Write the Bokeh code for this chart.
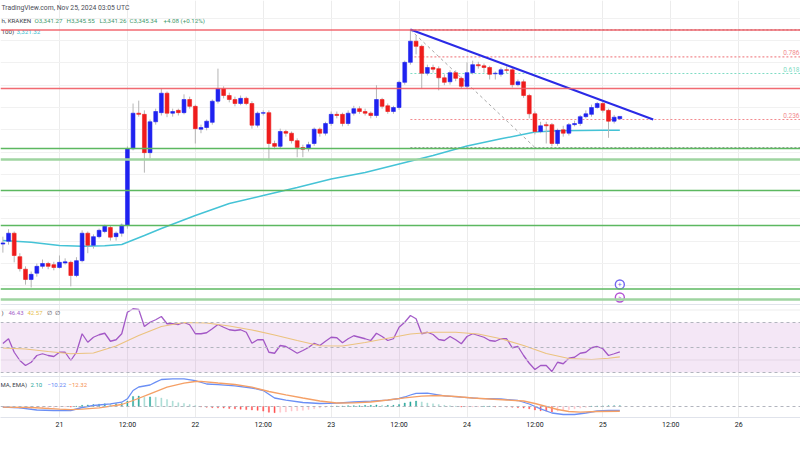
from bokeh.plotting import figure
from bokeh.models import Range1d, FixedTicker, Span, BoxAnnotation
from bokeh.core.properties import value
from bokeh.embed import file_html
from bokeh.resources import INLINE

# ---------------- data (hours since Nov 21 00:00 UTC, hourly candles) ----------------
hours = list(range(-10, 100))
opens = [3122, 3127, 3141, 3100, 3078, 3060, 3071, 3083, 3088, 3086,
         3081, 3089, 3090, 3067, 3093, 3141, 3120, 3135, 3144, 3151,
         3135, 3141, 3155, 3289, 3351, 3349, 3282, 3336, 3352, 3386,
         3351, 3356, 3352, 3375, 3363, 3323, 3326, 3335, 3372, 3394,
         3382, 3375, 3368, 3377, 3368, 3330, 3351, 3352, 3298, 3293,
         3319, 3316, 3303, 3291, 3289, 3298, 3323, 3316, 3333, 3349,
         3349, 3333, 3351, 3359, 3354, 3351, 3347, 3375, 3364, 3354,
         3361, 3405, 3440, 3477, 3468, 3421, 3431, 3429, 3413, 3406,
         3422, 3412, 3398, 3422, 3436, 3434, 3431, 3420, 3419, 3427,
         3427, 3401, 3406, 3382, 3350, 3319, 3331, 3331, 3298, 3322,
         3316, 3331, 3333, 3345, 3349, 3361, 3368, 3356, 3337, 3341.27]
closes = [3124, 3141, 3102, 3079, 3060, 3069, 3083, 3088, 3083, 3081,
          3090, 3091, 3067, 3093, 3141, 3120, 3135, 3146, 3153, 3134,
          3141, 3155, 3289, 3351, 3349, 3282, 3336, 3354, 3386, 3351,
          3354, 3352, 3375, 3363, 3324, 3326, 3337, 3372, 3394, 3382,
          3375, 3368, 3377, 3368, 3330, 3351, 3352, 3298, 3293, 3319,
          3316, 3303, 3291, 3288, 3296, 3323, 3316, 3333, 3349, 3347,
          3333, 3351, 3359, 3354, 3351, 3347, 3375, 3363, 3354, 3361,
          3405, 3440, 3477, 3468, 3421, 3431, 3428, 3413, 3405, 3422,
          3412, 3398, 3422, 3436, 3434, 3431, 3419, 3421, 3427, 3426,
          3401, 3406, 3382, 3350, 3319, 3329, 3329, 3298, 3321, 3316,
          3331, 3333, 3345, 3350, 3361, 3368, 3356, 3337, 3344, 3345.34]
highs = [3135, 3148, 3144, 3106, 3083, 3074, 3088, 3095, 3091, 3091,
         3102, 3097, 3093, 3099, 3146, 3144, 3139, 3149, 3156, 3155,
         3144, 3158, 3293, 3368, 3373, 3356, 3340, 3359, 3394, 3389,
         3359, 3359, 3384, 3380, 3366, 3331, 3340, 3375, 3429, 3398,
         3387, 3380, 3382, 3380, 3372, 3354, 3356, 3356, 3303, 3324,
         3322, 3319, 3307, 3296, 3301, 3326, 3326, 3336, 3354, 3354,
         3352, 3356, 3364, 3363, 3359, 3354, 3400, 3378, 3368, 3364,
         3408, 3443, 3497.5, 3487, 3471, 3436, 3436, 3433, 3419, 3426,
         3426, 3415, 3440, 3443, 3441, 3438, 3434, 3424, 3431, 3433,
         3431, 3410, 3410, 3385, 3354, 3336, 3336, 3334, 3324, 3329,
         3334, 3338, 3348, 3356, 3366, 3371, 3371, 3359, 3348, 3345.55]
lows = [3107, 3121, 3090, 3074, 3051, 3046, 3065, 3079, 3078, 3076,
        3079, 3086, 3048, 3064, 3090, 3106, 3114, 3132, 3141, 3128,
        3128, 3135, 3149, 3286, 3345, 3247, 3272, 3331, 3347, 3344,
        3345, 3347, 3349, 3359, 3298, 3316, 3321, 3331, 3368, 3377,
        3370, 3363, 3365, 3365, 3324, 3326, 3347, 3268, 3288, 3289,
        3310, 3298, 3274, 3274, 3284, 3294, 3310, 3312, 3329, 3342,
        3328, 3329, 3347, 3350, 3347, 3342, 3343, 3359, 3350, 3350,
        3357, 3401, 3436, 3454, 3394, 3417, 3422, 3391, 3400, 3401,
        3407, 3394, 3394, 3419, 3429, 3422, 3410, 3410, 3415, 3421,
        3396, 3398, 3378, 3342, 3314, 3316, 3298, 3293, 3294, 3310,
        3312, 3328, 3329, 3342, 3345, 3359, 3352, 3308, 3333, 3341.26]

sma_hours = [-10, -5, 0, 4, 8, 11, 15, 18, 24, 30, 36, 42, 48, 54, 60, 66, 72, 78, 84, 88, 92, 96, 99]
sma_values = [3128.3, 3125.3, 3119.5, 3118.3, 3119.0, 3121.3, 3137.0, 3149.3, 3172.0, 3193.0,
              3207.0, 3221.0, 3235.9, 3247.3, 3262.1, 3277.0, 3293.6, 3306.2, 3318.1, 3320.2,
              3320.7, 3321.0, 3321.32]

resistance_levels = [3496.6, 3394.25]
support_levels = [3289.25, 3270.0, 3215.75, 3154.5, 3043.4, 3025.0]

fib_labels = ["0", "0.236", "0.618", "0.786", "1"]
fib_prices = [3291, 3340, 3420.5, 3449.5, 3497]
fib_start_hour = 62
fib_diag_hours = [62, 84]
fib_diag_prices = [3497, 3291]

trend_hours = [62, 104.9]
trend_prices = [3497.5, 3340]

grid_prices = [3517, 3478, 3439, 3400, 3361, 3322, 3283, 3244, 3205, 3166, 3127, 3088, 3049]

event_hours = [99, 99]
event_prices = [3051.25, 3028.5]
event_glyphs = ["+", "ϟ"]

rsi_values = [53.2, 57.0, 46.2, 39.6, 35.6, 38.2, 43.6, 45.0, 43.6, 42.8,
              46.2, 46.2, 39.6, 46.2, 61.0, 54.2, 58.2, 60.2, 61.4, 55.0,
              56.2, 61.0, 78.2, 81.0, 80.4, 66.8, 70.2, 72.2, 74.8, 69.0,
              69.0, 68.4, 70.0, 68.2, 61.0, 61.0, 61.8, 65.0, 68.4, 66.2,
              64.2, 63.6, 64.2, 62.2, 53.4, 56.2, 56.2, 46.2, 45.4, 51.6,
              50.8, 48.2, 45.4, 47.6, 50.0, 53.4, 51.6, 55.0, 58.2, 57.8,
              53.8, 57.0, 59.4, 58.2, 57.0, 55.6, 61.4, 58.8, 55.6, 57.0,
              66.2, 70.2, 75.6, 73.0, 61.0, 62.2, 60.4, 56.4, 55.6, 58.8,
              56.2, 53.0, 58.8, 61.0, 59.6, 58.2, 55.6, 55.0, 57.0, 57.0,
              49.8, 50.8, 43.6, 37.4, 32.4, 35.6, 35.6, 30.8, 38.2, 37.0,
              41.4, 42.2, 45.4, 46.2, 49.8, 50.8, 49.0, 43.6, 45.0, 46.43]
rsi_ma_hours = [-10, -6, -2, 2, 6, 10, 14, 18, 22, 26, 30, 34, 38, 42, 46, 50, 54, 58, 62,
                66, 70, 74, 78, 82, 86, 90, 94, 97, 99]
rsi_ma_values = [49.6, 48.8, 46.8, 45.0, 45.6, 51.2, 59.6, 66.8, 70.0, 69.6, 67.2, 64.0, 60.0,
                 55.6, 51.4, 51.2, 54.0, 57.4, 60.8, 62.2, 62.2, 60.8, 57.0, 51.6, 45.2, 41.2,
                 40.4, 41.4, 42.57]

macd_hours = [-10, -7, -4, -1, 2, 4, 6, 9, 11, 12, 13, 14, 16, 17, 18, 20, 22, 24, 26, 28,
              31, 34, 36, 38, 40, 43, 46, 49, 52, 55, 58, 60, 61, 62, 63, 65, 68, 71, 74, 78,
              81, 83, 85, 87, 89, 91, 93, 95, 97, 99]
macd_values = [-1.8, -3.4, -9.1, -10.4, -10.4, -2.6, 2.6, 7.0, 11.2, 20.0, 41.6, 50.7, 55.9,
               63.2, 70.2, 72.0, 72.0, 67.0, 58.5, 56.7, 53.8, 48.1, 41.6, 22.1, 16.4, 10.4,
               7.8, 8.6, 11.7, 13.8, 16.4, 20.8, 24.7, 29.9, 34.3, 34.6, 27.8, 24.2, 21.3, 19.5,
               15.6, 6.5, -6.0, -16.9, -20.8, -20.8, -16.9, -11.7, -10.4, -10.22]
signal_hours = [-10, -5, 0, 2, 4, 7, 11, 13, 16, 19, 22, 24, 25, 28, 31, 34, 37, 40, 43, 46,
                49, 52, 55, 58, 61, 64, 67, 70, 73, 76, 79, 82, 84, 86, 88, 90, 92, 95, 99]
signal_values = [-1.8, -2.6, -7.0, -8.3, -7.0, -3.4, 5.2, 15.6, 33.0, 50.2, 60.6, 65.0, 65.5,
                 61.1, 57.2, 50.2, 39.0, 30.4, 22.1, 14.3, 9.1, 9.6, 11.7, 16.9, 22.6, 26.8,
                 28.6, 26.0, 22.1, 19.5, 16.9, 14.3, 7.8, 0.0, -7.8, -13.0, -14.8, -13.0, -12.32]
hist_values = [-1, -2, -3, -4, -5, -5, -4, -3, -2.5, -2,
               -1.5, -1, -1.5, 0.5, 3, 4, 5, 6, 7, 6.5,
               7, 8, 14, 26, 27, 24, 25, 24, 22, 18,
               14, 10, 8, 5, 2.5, -1, -2, -3, -3.5, -4,
               -5, -6, -7, -8, -9, -10, -12, -15, -16, -15,
               -14, -12, -11, -10, -8, -6, -4, -2, 0.5, 1,
               1, 2, 2, 2, 3, 3, 4, 3, 3, 3,
               5, 9, 12, 14, 12, 9, 7, 5, 3, 2,
               1, -1, -1, -1, -0.5, 0.5, 0.5, -1, -1, -1.5,
               -2, -3, -4, -6, -9, -11, -12, -14, -12, -10,
               -8, -6, -4, -2, 0.5, 1, 1.5, 2, 2, 2.1]

tick_hours = [0, 12, 24, 36, 48, 60, 72, 84, 96, 108, 120]
tick_labels = ["21", "12:00", "22", "12:00", "23", "12:00", "24", "12:00", "25", "12:00", "26"]

# ---------------- layout ----------------
FL, FT, FW, FH = 0, 0, 800, 417   # frame position in the picture (px)
xr = Range1d(-10.42, 130.92)
yr = Range1d(2818.5, 3548.25)
FONT = "Roboto"

p = figure(width=FW, height=450, x_range=xr, y_range=yr, output_backend="svg",
           toolbar_location=None, y_axis_location=None,
           min_border_left=0, min_border_right=0, min_border_top=0, min_border_bottom=33)
p.outline_line_color = None
p.background_fill_color = "white"
p.border_fill_color = "white"
p.extra_y_ranges = {"rsi": Range1d(-6.0, 327.6), "macd": Range1d(-28.6, 1055.6)}

p.xgrid.ticker = FixedTicker(ticks=tick_hours)
p.xgrid.grid_line_color = "#ececec"
p.ygrid.ticker = FixedTicker(ticks=grid_prices)
p.ygrid.grid_line_color = "#f1f1f1"

ax = p.xaxis[0]
ax.ticker = FixedTicker(ticks=tick_hours)
ax.major_label_overrides = {h: l for h, l in zip(tick_hours, tick_labels)}
ax.major_tick_line_color = None
ax.minor_tick_line_color = None
ax.major_tick_out = 0
ax.major_tick_in = 0
ax.major_label_standoff = 3
ax.axis_line_color = "#e0e3eb"
ax.major_label_text_font = FONT
ax.major_label_text_font_size = "7px"
ax.major_label_text_color = "#131722"


def xpx(px):
    return xr.start + (px - FL) / FW * (xr.end - xr.start)


def ypx(py):
    return yr.end - (py - FT) / FH * (yr.end - yr.start)


def add_text(px, py, txt, color, size="6.5px", align="left"):
    p.text(x=[xpx(px)], y=[ypx(py)], text=[txt], text_color=color, text_font=value(FONT),
           text_font_size=size, text_align=align, text_baseline="middle")


# pane separators & RSI/MACD guides
for loc in [84.4, 26.8]:
    p.add_layout(Span(location=loc, dimension="width", y_range_name="rsi",
                      line_color="#e0e3eb", line_width=1))
for loc in [80, 40]:
    p.add_layout(Span(location=loc, dimension="width", y_range_name="rsi",
                      line_color="#ededed", line_width=1))
p.add_layout(BoxAnnotation(bottom=30, top=70, y_range_name="rsi", fill_color="#9c27b0",
                           fill_alpha=0.11, line_color=None))
for loc in [70, 50, 30]:
    p.add_layout(Span(location=loc, dimension="width", y_range_name="rsi",
                      line_color="#b2b5be", line_width=1, line_dash="3 3"))
p.add_layout(Span(location=0, dimension="width", y_range_name="macd",
                  line_color="#b2b5be", line_width=1, line_dash="3 3"))

# fibonacci levels
fib_colors = ["#a0a0a0", "#f28b8f", "#7fdcc4", "#f28b8f", "#a0a0a0"]
for lbl, pr, col in zip(fib_labels, fib_prices, fib_colors):
    p.ray(x=[fib_start_hour], y=[pr], length=0, angle=0, line_color=col,
          line_width=1.2, line_dash="2 2")
    if lbl in ("0.236", "0.618", "0.786"):
        p.text(x=[xpx(799)], y=[pr], text=[lbl], text_color=col, text_font=value(FONT),
               text_font_size="6.5px", text_align="right", text_baseline="bottom", y_offset=-2)
p.line(fib_diag_hours, fib_diag_prices, line_color="#a8a8a8", line_width=1, line_dash="3 3")

# horizontal support / resistance
for lvl in resistance_levels:
    p.add_layout(Span(location=lvl, dimension="width", line_color="#f05a62",
                      line_width=1.7, line_alpha=0.9))
sup_widths = [1.3, 2.6, 1.3, 1.3, 1.3, 2.6]
sup_colors = ["#5cb860", "#9fd4a1", "#5cb860", "#5cb860", "#5cb860", "#9fd4a1"]
for lvl, w, c in zip(support_levels, sup_widths, sup_colors):
    p.add_layout(Span(location=lvl, dimension="width", line_color=c, line_width=w))

# SMA 100
p.line(sma_hours, sma_values, line_color="#45c3d6", line_width=1.5)

# candles
up = [c >= o for o, c in zip(opens, closes)]
colors = ["#1f22f0" if u else "#ee1c1c" for u in up]
p.segment(x0=hours, y0=lows, x1=hours, y1=highs, line_color="#b5b5b5", line_width=1)
p.vbar(x=hours, width=0.68, top=[max(o, c) for o, c in zip(opens, closes)],
       bottom=[min(o, c) for o, c in zip(opens, closes)], fill_color=colors,
       line_color=colors, line_width=0.6)

# trend line
p.line(trend_hours, trend_prices, line_color="#2a2ae6", line_width=2)

# event markers
p.scatter(event_hours, event_prices, marker="circle", size=9, fill_color="white",
          line_color=["#7467f0", "#b455d6"], line_width=1.4)
p.text(x=event_hours, y=event_prices, text=event_glyphs, text_color=["#7467f0", "#b455d6"],
       text_font=value(FONT), text_font_size="7px", text_align="center", text_baseline="middle")

# RSI
p.line(hours, rsi_values, y_range_name="rsi", line_color="#a45ec9", line_width=1.3)
p.line(rsi_ma_hours, rsi_ma_values, y_range_name="rsi", line_color="#f6d77a", line_width=1.2)

# MACD
hist_colors = []
prev = 0
for v in hist_values:
    if v >= 0:
        hist_colors.append("#26a69a" if v >= prev else "#a8dcd5")
    else:
        hist_colors.append("#ff5252" if v < prev else "#ffc4cb")
    prev = v
p.vbar(x=hours, width=0.2, top=hist_values, bottom=0, y_range_name="macd",
       fill_color=hist_colors, line_color=hist_colors, line_width=0.4)
p.line(macd_hours, macd_values, y_range_name="macd", line_color="#6b8ff5", line_width=1.3)
p.line(signal_hours, signal_values, y_range_name="macd", line_color="#f5a066", line_width=1.3)

# legends / header texts
add_text(1, 7, "TradingView.com, Nov 25, 2024 03:05 UTC", "#4a4d57", size="6.8px")
add_text(1, 20, "h, KRAKEN", "#3b3e48", size="6.2px")
add_text(34, 20, "O3,341.27", "#3f9a6c", size="6.2px")
add_text(66, 20, "H3,345.55", "#3f9a6c", size="6.2px")
add_text(99, 20, "L3,341.26", "#3f9a6c", size="6.2px")
add_text(129, 20, "C3,345.34", "#3f9a6c", size="6.2px")
add_text(163, 20, "+4.08 (+0.12%)", "#3f9a6c", size="6.2px")
add_text(1, 31.5, "100)", "#3b3e48", size="6.2px")
add_text(16, 31.5, "3,321.32", "#39bdd1", size="6.2px")
add_text(1, 312, ")", "#3b3e48", size="6px")
add_text(8, 312, "46.43", "#a45ec9", size="6px")
add_text(27, 312, "42.57", "#e6c04c", size="6px")
add_text(46, 312, "∅", "#3b3e48", size="6px")
add_text(54, 312, "∅", "#3b3e48", size="6px")
add_text(0, 384, "MA, EMA)", "#3b3e48", size="6px")
add_text(30, 384, "2.10", "#26a69a", size="6px")
add_text(47, 384, "−10.22", "#5f86f5", size="6px")
add_text(68, 384, "−12.32", "#f58f52", size="6px")

open("out.html", "w").write(file_html(p, INLINE))
